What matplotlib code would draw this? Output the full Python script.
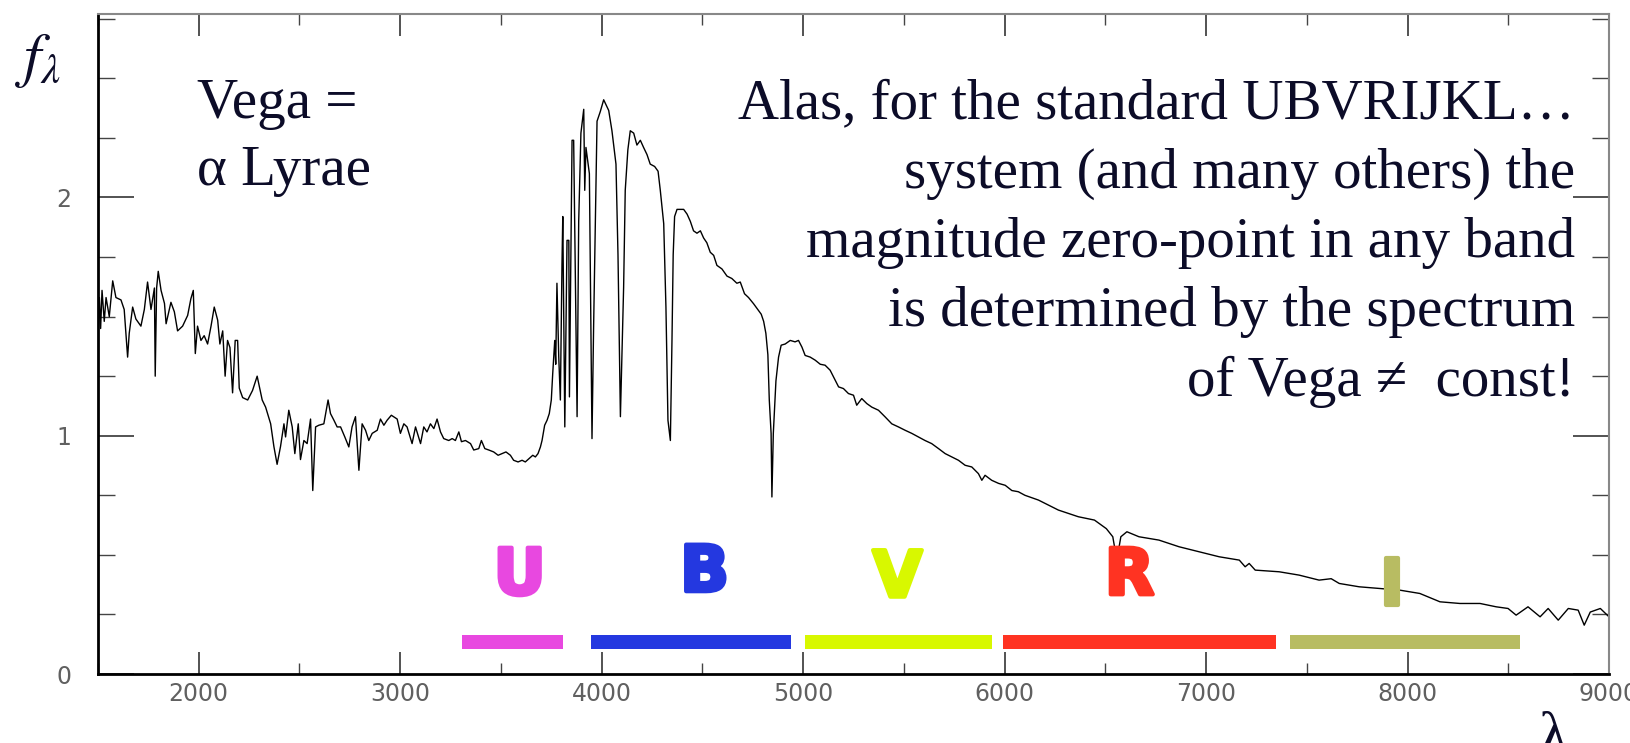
"""
Vega (alpha Lyrae) spectrum with the UBVRI band passes marked underneath.
"""
import matplotlib

matplotlib.use("Agg")
import matplotlib.pyplot as plt
import matplotlib.patheffects as pe
from matplotlib.ticker import MultipleLocator

# spectrum (wavelength in Angstrom, f_lambda arbitrary units)
WAVE = [
    1500, 1507, 1513, 1520, 1531, 1540, 1556, 1573, 1589, 1614, 1630, 1647, 1655,
    1672, 1688, 1713, 1730, 1746, 1763, 1780, 1784, 1791, 1799, 1813, 1830, 1838,
    1862, 1879, 1895, 1920, 1945, 1961, 1973, 1983, 1994, 2011, 2027, 2044, 2061,
    2077, 2094, 2105, 2119, 2131, 2143, 2155, 2168, 2181, 2193, 2201, 2218, 2243,
    2267, 2290, 2315, 2332, 2357, 2373, 2389, 2406, 2423, 2431, 2447, 2464, 2477,
    2494, 2505, 2522, 2538, 2555, 2566, 2580, 2596, 2621, 2642, 2654, 2671, 2687,
    2704, 2725, 2745, 2761, 2778, 2795, 2811, 2828, 2844, 2861, 2886, 2902, 2919,
    2935, 2956, 2985, 3001, 3018, 3034, 3059, 3076, 3101, 3117, 3133, 3150, 3167,
    3183, 3200, 3216, 3241, 3258, 3274, 3291, 3304, 3324, 3349, 3365, 3390, 3403,
    3420, 3440, 3464, 3486, 3506, 3525, 3547, 3563, 3585, 3605, 3621, 3641, 3658,
    3671, 3684, 3696, 3704, 3717, 3729, 3740, 3750, 3757, 3767, 3772, 3778, 3787,
    3795, 3803, 3807, 3817, 3828, 3837, 3840, 3853, 3861, 3878, 3886, 3897, 3911,
    3916, 3922, 3939, 3952, 3960, 3977, 3993, 4010, 4035, 4051, 4071, 4081, 4093,
    4109, 4117, 4130, 4142, 4159, 4175, 4192, 4208, 4225, 4241, 4263, 4280, 4291,
    4308, 4319, 4329, 4341, 4349, 4355, 4362, 4374, 4407, 4424, 4440, 4456, 4473,
    4490, 4506, 4522, 4539, 4556, 4572, 4597, 4622, 4646, 4671, 4688, 4709, 4729,
    4754, 4775, 4792, 4804, 4815, 4825, 4832, 4841, 4845, 4852, 4865, 4878, 4891,
    4911, 4936, 4960, 4977, 4994, 5010, 5035, 5060, 5085, 5109, 5134, 5151, 5176,
    5200, 5225, 5250, 5266, 5291, 5316, 5341, 5374, 5407, 5440, 5473, 5506, 5539,
    5572, 5605, 5638, 5672, 5705, 5738, 5771, 5804, 5837, 5870, 5887, 5903, 5936,
    5970, 6003, 6036, 6068, 6101, 6168, 6267, 6366, 6446, 6505, 6537, 6547, 6567,
    6577, 6607, 6667, 6766, 6866, 6965, 7065, 7165, 7194, 7214, 7244, 7363, 7462,
    7561, 7621, 7661, 7760, 7861, 7961, 8061, 8161, 8260, 8360, 8440, 8499, 8539,
    8598, 8658, 8698, 8748, 8798, 8847, 8877, 8907, 8957, 9000,
]
FLUX = [
    1.41, 1.58, 1.45, 1.61, 1.48, 1.58, 1.50, 1.65, 1.58, 1.57, 1.53, 1.33, 1.43,
    1.54, 1.49, 1.46, 1.53, 1.645, 1.53, 1.62, 1.25, 1.62, 1.69, 1.61, 1.555, 1.47,
    1.56, 1.52, 1.44, 1.46, 1.505, 1.575, 1.61, 1.345, 1.46, 1.40, 1.42, 1.385, 1.46,
    1.54, 1.485, 1.385, 1.44, 1.25, 1.40, 1.37, 1.18, 1.40, 1.40, 1.20, 1.16, 1.15,
    1.19, 1.25, 1.15, 1.12, 1.05, 0.955, 0.88, 0.955, 1.05, 0.995, 1.107, 1.037, 0.925,
    1.05, 0.90, 0.98, 0.967, 1.07, 0.77, 1.037, 1.044, 1.05, 1.15, 1.093, 1.065, 1.037,
    1.037, 0.995, 0.953, 1.037, 1.08, 0.855, 1.05, 1.023, 0.98, 1.01, 1.023, 1.07, 1.044,
    1.065, 1.086, 1.07, 1.01, 1.05, 1.037, 0.967, 1.037, 0.967, 1.037, 1.016, 1.05, 1.03,
    1.07, 1.016, 0.988, 0.98, 0.988, 0.98, 1.016, 0.975, 0.98, 0.967, 0.94, 0.946, 0.98,
    0.946, 0.94, 0.932, 0.918, 0.925, 0.932, 0.918, 0.897, 0.89, 0.897, 0.89, 0.905, 0.918,
    0.911, 0.925, 0.953, 0.98, 1.044, 1.065, 1.093, 1.15, 1.26, 1.40, 1.30, 1.64, 1.33,
    1.15, 1.72, 1.92, 1.037, 1.82, 1.82, 1.163, 2.24, 2.24, 1.08, 1.90, 2.27, 2.37,
    2.03, 2.21, 2.10, 0.988, 1.457, 2.32, 2.36, 2.41, 2.365, 2.28, 2.14, 1.76, 1.08,
    1.624, 2.03, 2.20, 2.28, 2.27, 2.22, 2.24, 2.21, 2.18, 2.14, 2.13, 2.11, 2.03,
    1.89, 1.54, 1.065, 0.98, 1.40, 1.76, 1.92, 1.95, 1.95, 1.93, 1.90, 1.86, 1.85,
    1.86, 1.83, 1.81, 1.77, 1.757, 1.715, 1.70, 1.67, 1.66, 1.64, 1.645, 1.596, 1.58,
    1.554, 1.53, 1.51, 1.48, 1.43, 1.34, 1.15, 1.01, 0.743, 1.01, 1.23, 1.33, 1.38,
    1.385, 1.40, 1.394, 1.40, 1.372, 1.337, 1.33, 1.317, 1.30, 1.296, 1.275, 1.247, 1.205,
    1.198, 1.177, 1.17, 1.128, 1.156, 1.135, 1.12, 1.107, 1.079, 1.05, 1.037, 1.023, 1.01,
    0.995, 0.98, 0.967, 0.946, 0.925, 0.911, 0.897, 0.876, 0.869, 0.841, 0.813, 0.834, 0.813,
    0.80, 0.792, 0.77, 0.765, 0.75, 0.73, 0.688, 0.66, 0.646, 0.61, 0.576, 0.527, 0.527,
    0.576, 0.597, 0.576, 0.562, 0.534, 0.513, 0.492, 0.478, 0.45, 0.464, 0.436, 0.429, 0.415,
    0.394, 0.40, 0.38, 0.366, 0.359, 0.352, 0.338, 0.303, 0.296, 0.296, 0.282, 0.275, 0.247,
    0.282, 0.24, 0.275, 0.226, 0.275, 0.268, 0.205, 0.26, 0.275, 0.24,
]

# photometric bands
BANDS = ["U", "B", "V", "R", "I"]
BAND_START = [3305, 3945, 5010, 5992, 7415]
BAND_END = [3810, 4940, 5937, 7345, 8558]
BAND_COLORS = ["#E848E0", "#2438E0", "#D8F800", "#FF3322", "#B8BC62"]
LABEL_X = [3593, 4511, 5468, 6620, 7921]
LABEL_Y = [0.41, 0.423, 0.40, 0.41, 0.366]
BAR_Y = 0.135

X_TICKS = [2000, 3000, 4000, 5000, 6000, 7000, 8000, 9000]
Y_TICKS = [0, 1, 2]

RIGHT_LINES = [
    "Alas, for the standard UBVRIJKL\u2026",
    "system (and many others) the",
    "magnitude zero-point in any band",
    "is determined by the spectrum",
    "of Vega \u2260  const!",
]

W, H = 1630, 743
SERIF = ["Liberation Serif", "DejaVu Serif"]
TXT = "#0c0c28"


def fx(px):
    return px / W


def fy(py):
    return 1 - py / H


def main():
    fig = plt.figure(figsize=(W / 100, H / 100), dpi=100)
    ax = fig.add_axes([fx(98), fy(674), fx(1609 - 98), (674 - 14) / H])

    ax.plot(WAVE, FLUX, color="black", lw=1.0)

    for s, e, c in zip(BAND_START, BAND_END, BAND_COLORS):
        ax.barh(BAR_Y, e - s, left=s, height=0.056, color=c, edgecolor="none")
    for b, x, y, c in zip(BANDS, LABEL_X, LABEL_Y, BAND_COLORS):
        ax.text(x, y, b, color=c, fontsize=46, fontweight="bold",
                family="DejaVu Sans", ha="center", va="center",
                path_effects=[pe.Stroke(linewidth=3, foreground=c,
                                        joinstyle="round"), pe.Normal()])

    ax.set_xlim(1500, 9000)
    ax.set_ylim(0, 2.77)
    ax.set_xticks(X_TICKS)
    ax.set_yticks(Y_TICKS)
    ax.xaxis.set_minor_locator(MultipleLocator(500))
    ax.yaxis.set_minor_locator(MultipleLocator(0.25))
    ax.tick_params(which="both", direction="in", top=True, right=True,
                   color="#444444")
    ax.tick_params(axis="x", which="major", length=16, width=1.3, pad=6,
                   labelsize=17, labelcolor="#606060")
    ax.tick_params(axis="x", which="minor", length=8, width=1)
    ax.tick_params(axis="y", which="major", length=26, width=1.3, pad=19,
                   labelsize=17, labelcolor="#606060")
    ax.tick_params(axis="y", which="minor", length=12, width=1)
    for side in ("left", "bottom"):
        ax.spines[side].set_linewidth(2)
        ax.spines[side].set_color("black")
    for side in ("top", "right"):
        ax.spines[side].set_linewidth(1.5)
        ax.spines[side].set_color("#888888")

    # annotations
    fig.text(fx(38), fy(60), r"$f_{\lambda}$", fontsize=44, color=TXT,
             ha="center", va="center", math_fontfamily="stix")
    fig.text(fx(197), fy(118), "Vega =", fontsize=41, family=SERIF,
             color=TXT, va="baseline")
    fig.text(fx(197), fy(185), "\u03b1 Lyrae", fontsize=41, family=SERIF,
             color=TXT, va="baseline")
    for i, line in enumerate(RIGHT_LINES):
        fig.text(fx(1575), fy(118 + 69.5 * i), line, fontsize=41,
                 family=SERIF, color=TXT, ha="right", va="baseline")
    fig.text(fx(1553), fy(712), "\u03bb", fontsize=44, family=SERIF,
             color=TXT, ha="center", va="top")

    fig.savefig("out.png", dpi=100)
    plt.close(fig)


if __name__ == "__main__":
    main()
